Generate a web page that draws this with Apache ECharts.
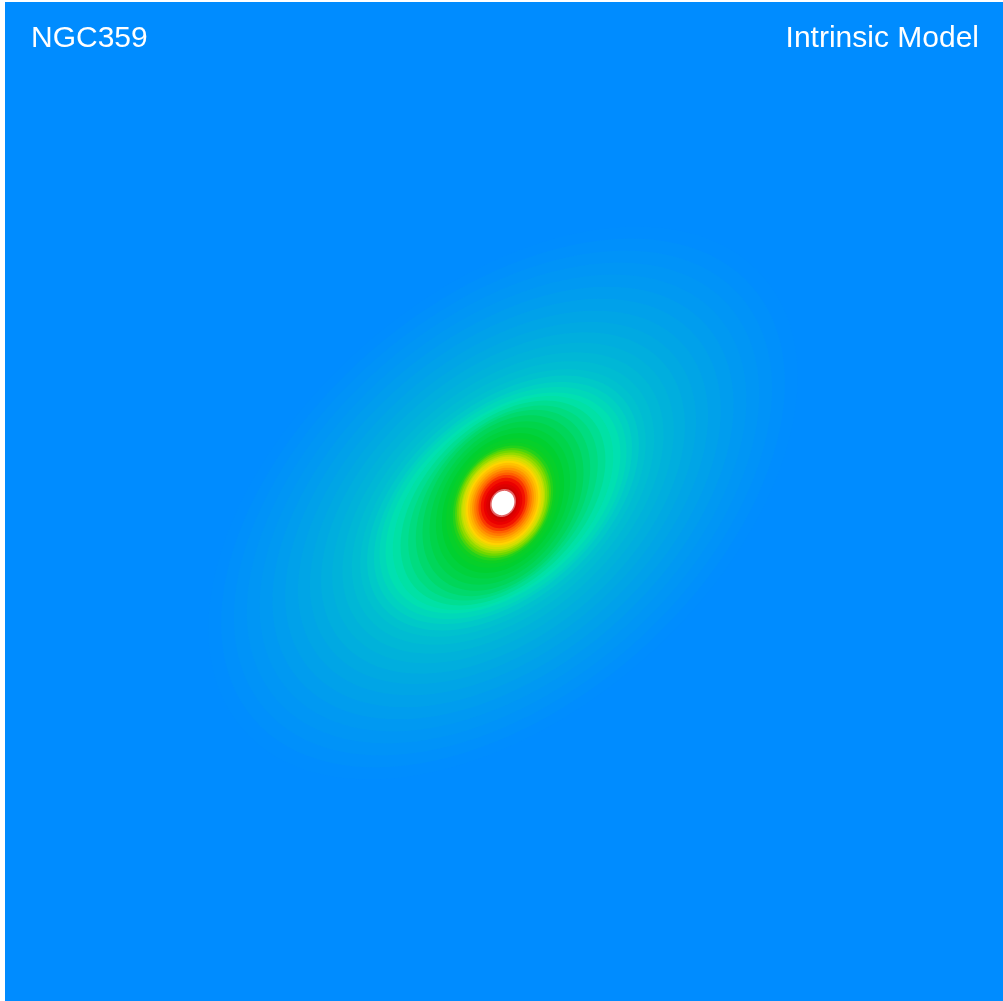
<!DOCTYPE html>
<html><head><meta charset="utf-8">
<script src="https://cdn.jsdelivr.net/npm/echarts@6/dist/echarts.min.js"></script>
<style>html,body{margin:0;padding:0;background:#fff;overflow:hidden}#c{width:1003px;height:1001px}</style>
</head><body><div id="c"></div>
<script>
// ---- labels ----
const galaxyName = 'NGC359';
const panelLabel = 'Intrinsic Model';

// ---- isophotes (outermost first) ----
// normalized contour level (0 = sky, 1 = peak)
const isoLevel = [0.01,0.03,0.05,0.07,0.09,0.11,0.13,0.15,0.17,0.19,0.21,0.23,0.25,0.27,0.30,0.33,0.36,0.39,0.41,0.43,0.45,0.47,0.49,0.51,0.53,0.55,0.57,0.59,0.61,0.63,0.65,0.67,0.69,0.71,0.73,0.75,0.77,0.79,0.81,0.83,0.85,0.87,0.89,0.91,0.93,0.95,0.97,1.00];
// semi-major axis (arcsec)
const isoSma = [34.5,33.0,31.5,30.0,28.5,27.0,25.5,24.0,22.6,21.3,20.0,18.8,17.7,16.7,15.9,15.1,14.4,13.7,13.0,12.2,11.4,10.6,9.8,9.0,8.2,7.5,6.9,6.4,6.05,5.75,5.5,5.25,5.0,4.8,4.55,4.35,4.15,3.9,3.65,3.4,3.15,2.9,2.6,2.25,1.95,1.65,1.45,1.25];
// axis ratio b/a
const isoQ = [0.61,0.61,0.61,0.61,0.61,0.61,0.61,0.61,0.61,0.61,0.61,0.61,0.61,0.61,0.61,0.61,0.62,0.62,0.63,0.64,0.65,0.67,0.69,0.70,0.72,0.73,0.75,0.76,0.77,0.78,0.79,0.80,0.80,0.81,0.81,0.81,0.81,0.81,0.81,0.81,0.81,0.81,0.82,0.82,0.83,0.84,0.86,0.88];
// position angle of major axis (deg, counter-clockwise from +x)
const isoPA = [41,41,41,41,41,41,41,41,41,41,41,41,41,41,41,41,41,41,43,45,47,50,52,54,56,58,59,60,61,62,63,63,64,64,65,65,65,65,65,65,65,65,65,64,63,62,60,60];
// galaxy centre (arcsec)
const centreX = 0.0, centreY = 0.0;

// ---- colour table ----
const colorTable = ['#008cff','#0093f8','#009bf0','#00a5e6','#00b0dc','#00bcd2','#00c9c8','#00d6bc','#00e2ae','#00dc80','#00d550','#00d030','#10d020','#70d800','#c8e000','#ffd400','#ffa400','#ff6000','#f00000','#d00000','#ffffff'];

const data = isoLevel.map((v, i) => [centreX, centreY, isoSma[i], isoQ[i], isoPA[i], v]);

const chart = echarts.init(document.getElementById('c'), null, {renderer: 'canvas'});
chart.setOption({
  animation: false,
  backgroundColor: '#ffffff',
  title: [
    {text: galaxyName, left: 31, top: 24, padding: 0,
     textStyle: {color: '#ffffff', fontSize: 30, fontWeight: 'normal', fontFamily: 'Liberation Sans'}},
    {text: panelLabel, right: 24, top: 24, padding: 0,
     textStyle: {color: '#ffffff', fontSize: 30, fontWeight: 'normal', fontFamily: 'Liberation Sans'}}
  ],
  grid: {left: 5, top: 2, right: 0, bottom: 0, show: true, backgroundColor: colorTable[0], borderWidth: 0},
  xAxis: {type: 'value', min: -49.8, max: 50.0, show: false},
  yAxis: {type: 'value', min: -49.8, max: 50.1, show: false},
  visualMap: {type: 'continuous', show: false, dimension: 5, min: 0, max: 1, seriesIndex: 0,
              inRange: {color: colorTable}},
  series: [{
    type: 'custom',
    clip: true,
    data: data,
    renderItem: function (params, api) {
      const cx = api.value(0), cy = api.value(1), a = api.value(2), q = api.value(3);
      const th = api.value(4) * Math.PI / 180;
      const b = a * q, ct = Math.cos(th), st = Math.sin(th);
      const pts = [];
      const n = 120;
      for (let k = 0; k < n; k++) {
        const t = 2 * Math.PI * k / n;
        const ex = a * Math.cos(t), ey = b * Math.sin(t);
        pts.push(api.coord([cx + ex * ct - ey * st, cy + ex * st + ey * ct]));
      }
      return {type: 'polygon', shape: {points: pts, smooth: 0}, style: {fill: api.visual('color'), stroke: null}};
    }
  }]
});
</script>
</body></html>
